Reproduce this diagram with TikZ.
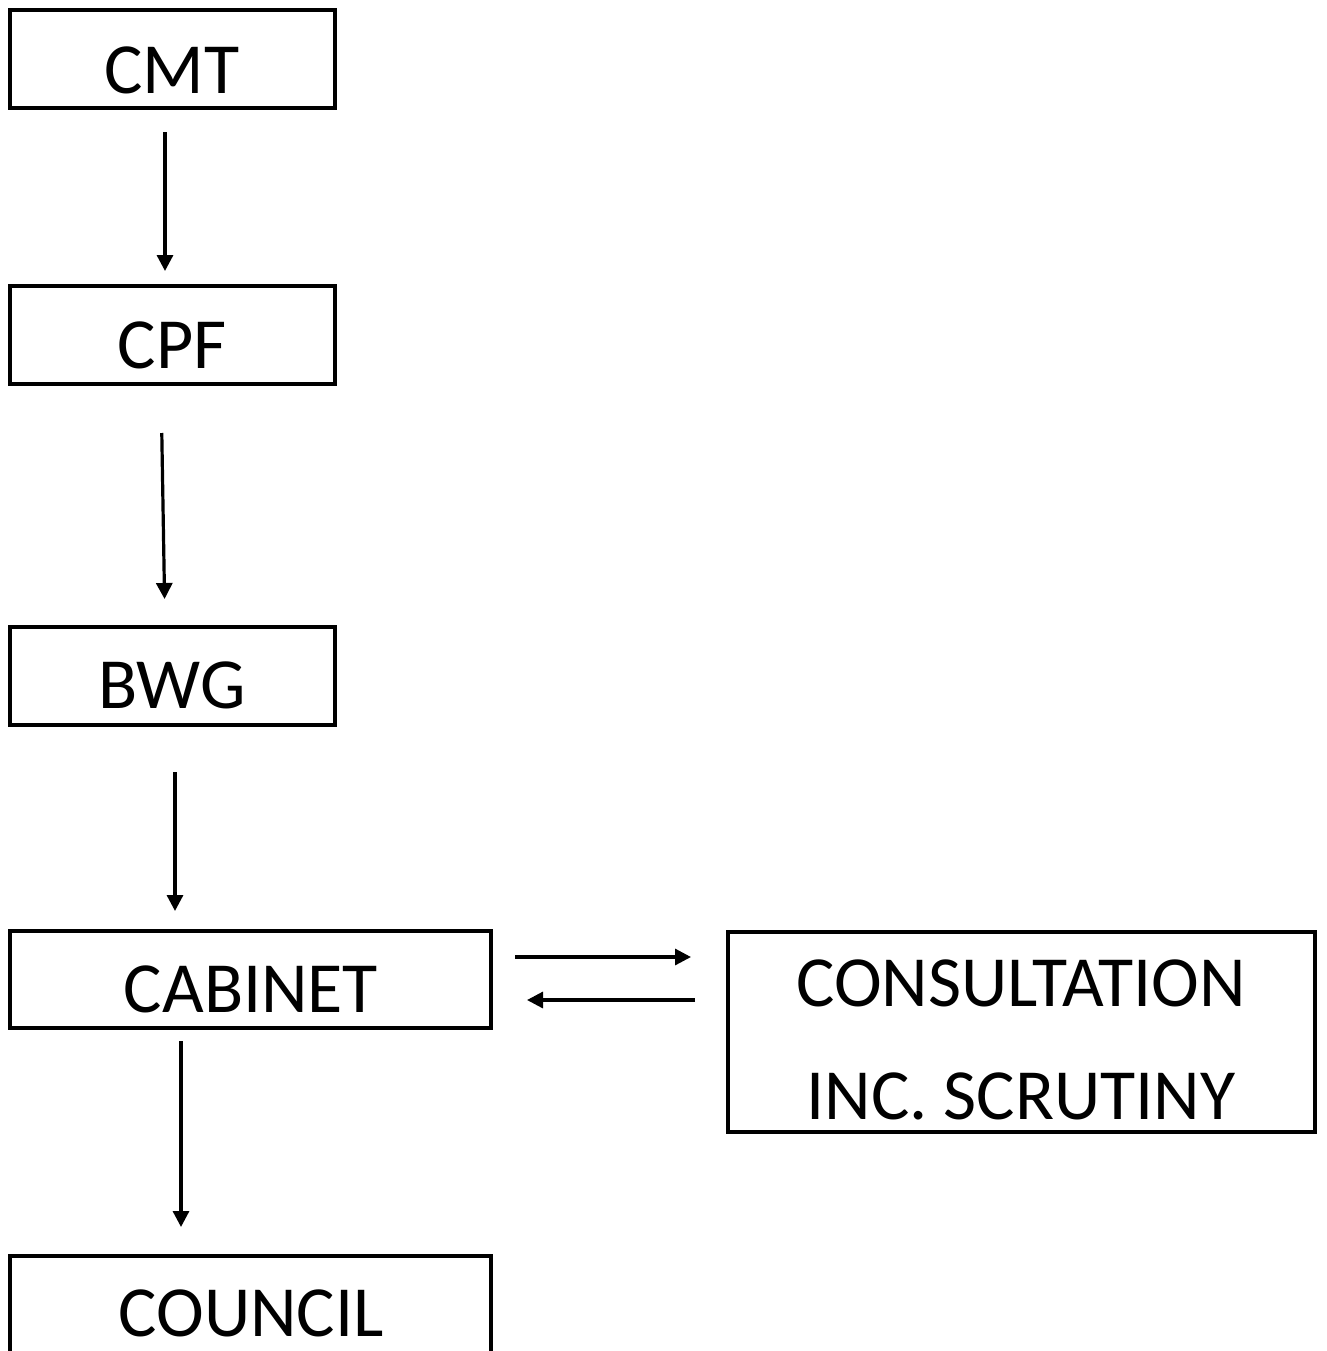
\documentclass[tikz,border=0pt]{standalone}
\usepackage{fontspec}
\setmainfont{Carlito}
\usetikzlibrary{arrows.meta}
\begin{document}
\begin{tikzpicture}[x=0.5pt,y=-0.5pt,
  box/.style={draw=black,line width=2pt,rectangle,inner sep=0pt,fill=none},
  lbl/.style={anchor=base,inner sep=0pt,font=\fontsize{36pt}{43pt}\selectfont},
  arr/.style={line width=1.6pt,-{Triangle[length=8pt,width=8pt]}}]
\useasboundingbox (0,0) rectangle (1327,1351);
\clip (0,0) rectangle (1327,1351);
% boxes
\node[box,minimum width=162.5pt,minimum height=49pt] (cmt) at (172.5,59) {};
\node[box,minimum width=162.5pt,minimum height=49pt] (cpf) at (172.5,335) {};
\node[box,minimum width=162.5pt,minimum height=49pt] (bwg) at (172.5,676) {};
\node[box,minimum width=240.5pt,minimum height=48.5pt] (cab) at (250.5,979.5) {};
\node[box,minimum width=293.5pt,minimum height=100pt] (cons) at (1021.5,1032) {};
\node[box,minimum width=240.5pt,minimum height=52pt] (coun) at (250.5,1308) {};
% labels
\node[lbl] (tcmt) at (172,93) {CMT};
\node[lbl] (tcpf) at (172,368) {CPF};
\node[lbl] (tbwg) at (172,708) {BWG};
\node[lbl] (tcab) at (251,1012) {CABINET};
\node[lbl] (tcons1) at (1021,1006) {CONSULTATION};
\node[lbl] (tcons2) at (1021,1119) {INC. SCRUTINY};
\node[lbl] (tcoun) at (251,1336) {COUNCIL};
% connectors
\draw[arr,shorten <=11pt,shorten >=6.5pt] ([xshift=-3.75pt]cmt.south) -- ([xshift=-3.75pt]cpf.north);
\draw[arr,shorten <=23.5pt,shorten >=13pt] ([xshift=-5.75pt]cpf.south) -- ([xshift=-3.75pt]bwg.north);
\draw[arr,shorten <=22.5pt,shorten >=9pt] ([xshift=1.25pt]bwg.south) -- ([xshift=-37.75pt]cab.north);
\draw[arr,shorten <=5.5pt,shorten >=13.5pt] ([xshift=-34.75pt]cab.south) -- ([xshift=-34.75pt]coun.north);
\draw[arr,shorten <=11pt,shorten >=17.5pt] ([yshift=11.25pt]cab.east) -- ([yshift=37.5pt]cons.west);
\draw[arr,shorten <=15.5pt,shorten >=17pt] ([yshift=16pt]cons.west) -- ([yshift=-10.25pt]cab.east);
\end{tikzpicture}
\end{document}
